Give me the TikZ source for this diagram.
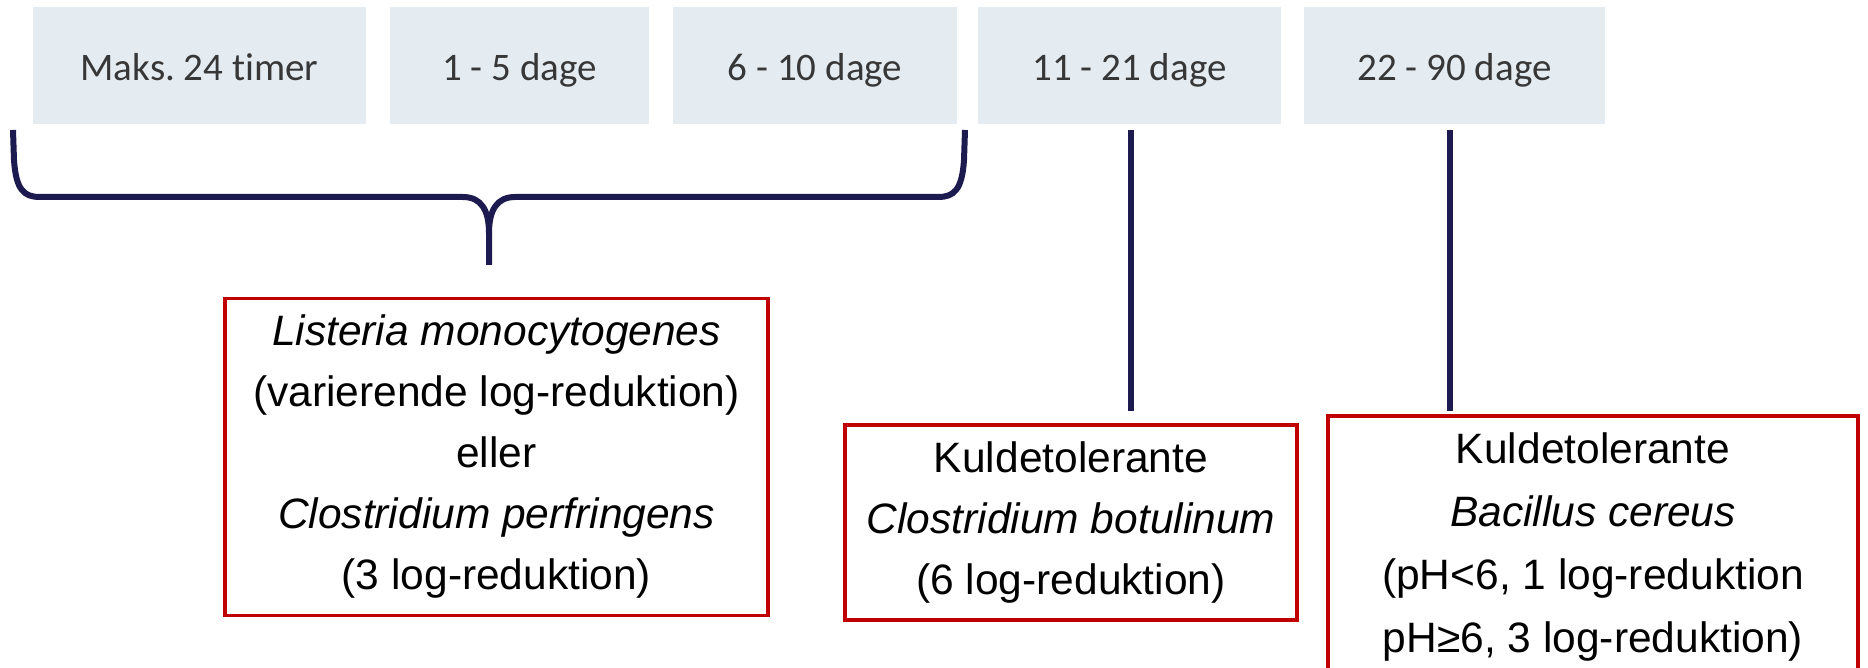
\documentclass[tikz,border=0pt]{standalone}
\usepackage{fontspec}
\setmainfont{Liberation Sans}
\newfontfamily\topfont[Ligatures={NoCommon}]{Carlito}
\definecolor{navy}{RGB}{28,26,78}
\definecolor{boxred}{RGB}{192,0,0}
\definecolor{tilefill}{RGB}{228,236,242}
\definecolor{tiletext}{RGB}{55,55,55}
\begin{document}
\begin{tikzpicture}[x=0.5pt,y=-0.5pt,
  tile/.style={fill=tilefill, draw=none, inner sep=0pt, minimum height=58.5pt,
    text height=16pt, text depth=0.5pt,
    font=\topfont\fontsize{19.5}{23}\selectfont\frenchspacing, text=tiletext},
  redbox/.style={draw=boxred, line width=1.8pt, inner sep=0pt, align=center,
    font=\fontsize{21.25}{30.5}\selectfont},
  link/.style={draw=navy, line width=3pt, line join=round}]
\useasboundingbox (0,0) rectangle (1868,668);
\clip (0,0) rectangle (1868,668);
% top tiles
\node[tile, minimum width=166.5pt] (t1) at (199.5,65.5) {Maks. 24 timer};
\node[tile, minimum width=129.5pt] (t2) at (519.5,65.5) {1 - 5 dage};
\node[tile, minimum width=142pt]   (t3) at (815,65.5)   {6 - 10 dage};
\node[tile, minimum width=151.5pt] (t4) at (1129.5,65.5) {11 - 21 dage};
\node[tile, minimum width=150.5pt] (t5) at (1454.5,65.5) {22 - 90 dage};
% red boxes
\node[redbox, minimum width=271.5pt, minimum height=158.5pt] (bA) at (496.5,457)
  {\textit{Listeria monocytogenes}\\(varierende log-reduktion)\\eller\\\textit{Clostridium perfringens}\\(3 log-reduktion)};
\node[redbox, minimum width=226pt, minimum height=97.5pt] (bB) at (1071,522.5)
  {Kuldetolerante\\\textit{Clostridium botulinum}\\(6 log-reduktion)};
\node[redbox, minimum width=265pt, minimum height=131pt,
  font=\fontsize{21.25}{31.4}\selectfont] (bC) at (1593,547)
  {Kuldetolerante\\\textit{Bacillus cereus}\\(pH<6, 1 log-reduktion\\pH≥6, 3 log-reduktion)};
% brace
\coordinate (bl) at (13,130);
\coordinate (br) at (965,130);
\coordinate (bm) at (489,233);
\coordinate (tip) at (489,265);
\draw[link] (bl) -- (14,160) .. controls (16,190) and (24,197) .. (40,197)
  -- (463,197) .. controls (481,197) and (489,210) .. (bm) -- (tip);
\draw[link] (br) -- (964,160) .. controls (962,190) and (954,197) .. (938,197)
  -- (515,197) .. controls (497,197) and (489,210) .. (bm);
% vertical connectors
\coordinate (v1a) at (1131,130);
\coordinate (v1b) at (1131,411);
\coordinate (v2a) at (1450,130);
\coordinate (v2b) at (1450,411);
\draw[link] (v1a) -- (v1b);
\draw[link] (v2a) -- (v2b);
\end{tikzpicture}
\end{document}
